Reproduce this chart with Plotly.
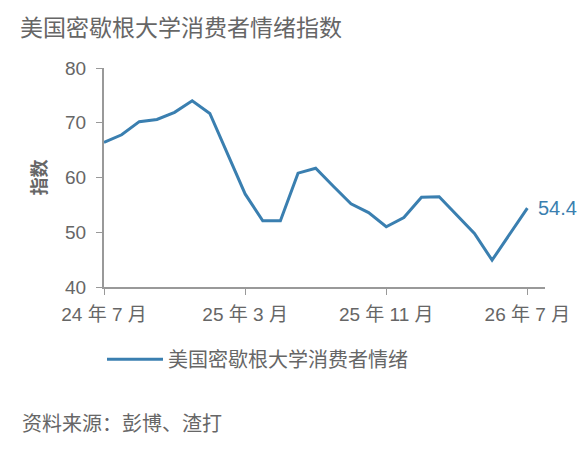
import plotly.graph_objects as go

# 数据：2024-07 至 2026-07 月度指数
months = list(range(25))
sentiment = [66.4, 67.8, 70.2, 70.6, 71.9, 74.0, 71.7, 64.3, 57.0, 52.1, 52.1, 60.8, 61.7,
             58.4, 55.2, 53.6, 51.0, 52.7, 56.4, 56.5, 53.2, 49.8, 44.9, 49.7, 54.4]
tick_vals = [0, 8, 16, 24]
tick_text = ["24 年 7 月", "25 年 3 月", "25 年 11 月", "26 年 7 月"]
y_ticks = [40, 50, 60, 70, 80]

blue = "#3a7fb0"
grey = "#666666"
font = "Liberation Sans, Arial, Noto Sans CJK SC, sans-serif"
cjk = "Noto Sans CJK SC"

# 页面 body 有 8px 默认边距，所以图整体缩小 8px
W, H = 580, 444
ml, mr, mt, mb = 96, 43, 60, 165
pw, ph = W - ml - mr, H - mt - mb

fig = go.Figure()
fig.add_trace(go.Scatter(x=months, y=sentiment, mode="lines", name="美国密歇根大学消费者情绪",
                         line=dict(color=blue, width=3)))

# 最后一个数值标注
fig.add_annotation(x=months[-1], y=sentiment[-1], text=f"{sentiment[-1]:.1f}", showarrow=False,
                   xanchor="left", xshift=9, font=dict(size=20, color=blue, family=font))

# 资料来源
fig.add_annotation(x=(12 - ml) / pw, y=(ph + mt - 414) / ph, xref="paper", yref="paper",
                   text="资料来源：彭博、渣打", showarrow=False, xanchor="left", yanchor="middle",
                   font=dict(size=20, color=grey, family=cjk))

fig.update_layout(
    width=W, height=H,
    margin=dict(l=ml, r=mr, t=mt, b=mb),
    paper_bgcolor="white", plot_bgcolor="white",
    font=dict(family=font, color=grey),
    title=dict(text="美国密歇根大学消费者情绪指数", x=12 / W, xanchor="left", y=1 - 20 / H, yanchor="middle",
               font=dict(size=23, color=grey, family=cjk)),
    showlegend=True,
    legend=dict(orientation="h", x=-2 / pw, xanchor="left", y=-0.33, yanchor="middle",
                font=dict(size=20, color=grey, family=cjk), itemwidth=56),
)
fig.update_xaxes(range=[0, 25], tickvals=tick_vals, ticktext=tick_text, showgrid=False, zeroline=False,
                 showline=True, linecolor="#999999", linewidth=2, ticks="outside", ticklen=6,
                 tickcolor="#999999", tickfont=dict(size=19, color=grey), ticklabelstandoff=3,
                 automargin=False)
fig.update_yaxes(range=[40, 80], tickvals=y_ticks, showgrid=False, zeroline=False,
                 showline=True, linecolor="#999999", linewidth=2, ticks="outside", ticklen=6,
                 tickcolor="#999999", tickfont=dict(size=19, color=grey), ticklabelstandoff=6,
                 automargin=False,
                 title=dict(text="<b>指数</b>", standoff=14, font=dict(size=18, color=grey, family=cjk)))

fig.write_html("out.html")
